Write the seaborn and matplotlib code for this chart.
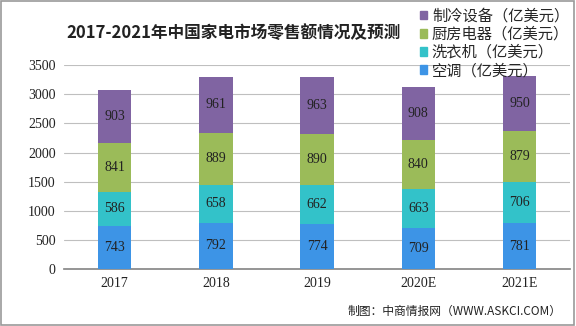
import matplotlib
matplotlib.use("Agg")
import matplotlib.pyplot as plt
import numpy as np
import pandas as pd
import seaborn as sns
from matplotlib.patches import Rectangle

years = ["2017", "2018", "2019", "2020E", "2021E"]
aircon = [743, 792, 774, 709, 781]
washer = [586, 658, 662, 663, 706]
kitchen = [841, 889, 890, 840, 879]
fridge = [903, 961, 963, 908, 950]

series = ["空调（亿美元）", "洗衣机（亿美元）", "厨房电器（亿美元）", "制冷设备（亿美元）"]
colors = ["#3d94e6", "#33c2c9", "#9bbb59", "#8064a2"]

sns.set_theme(style="white")
plt.rcParams["font.family"] = ["Noto Sans CJK SC", "DejaVu Sans"]

fig = plt.figure(figsize=(5.76, 3.26), dpi=100)
ax = fig.add_axes([0.111, 0.175, 0.879, 0.625])

values = [aircon, washer, kitchen, fridge]
bottom = np.zeros(len(years))
handles = []
for name, vals, col in zip(series, values, colors):
    df = pd.DataFrame({"year": years, "v": np.array(vals) + bottom})
    sns.barplot(data=df, x="year", y="v", color=col, width=0.33, ax=ax,
                saturation=1, linewidth=0)
    for i, v in enumerate(vals):
        ax.text(i, bottom[i] + v / 2, str(v), ha="center", va="center",
                fontsize=10, family="Liberation Serif", color="#222222", zorder=20)
    handles.append(Rectangle((0, 0), 1, 1, color=col))
    bottom = bottom + np.array(vals)

# cumulative bars: lower segments must sit on top
n = len(ax.containers)
for i, cont in enumerate(ax.containers):
    for p in cont.patches:
        p.set_zorder(3 + (n - i))

ax.set_ylim(0, 3500)
ax.set_xlim(-0.5, 4.5)
ax.set_yticks(range(0, 3501, 500))
ax.yaxis.grid(True, color="#bfbfbf", linewidth=0.8)
ax.set_axisbelow(True)
for s in ["top", "right", "left"]:
    ax.spines[s].set_visible(False)
ax.spines["bottom"].set_color("#888888")
ax.set_xlabel("")
ax.set_ylabel("")
ax.tick_params(axis="both", length=0, pad=6, labelsize=10, colors="#222222")
for lab in ax.get_xticklabels() + ax.get_yticklabels():
    lab.set_family("Liberation Serif")

fig.text(0.115, 0.9, "2017-2021年中国家电市场零售额情况及预测", fontsize=12,
         fontweight="bold", color="#222222", ha="left", va="center")

leg = fig.legend(handles[::-1], series[::-1], loc="upper left",
                 bbox_to_anchor=(0.71, 1.01), frameon=False, fontsize=11,
                 handlelength=0.5, handleheight=0.5, handletextpad=0.3,
                 labelspacing=0.08, borderpad=0.2)

fig.text(0.975, 0.045, "制图：中商情报网（WWW.ASKCI.COM）", fontsize=8.5,
         color="#222222", ha="right", va="center")

fig.patches.append(Rectangle((0.002, 0.003), 0.995, 0.994, transform=fig.transFigure,
                             fill=False, edgecolor="#999999", linewidth=1.2))

fig.savefig("out.png", dpi=100)
